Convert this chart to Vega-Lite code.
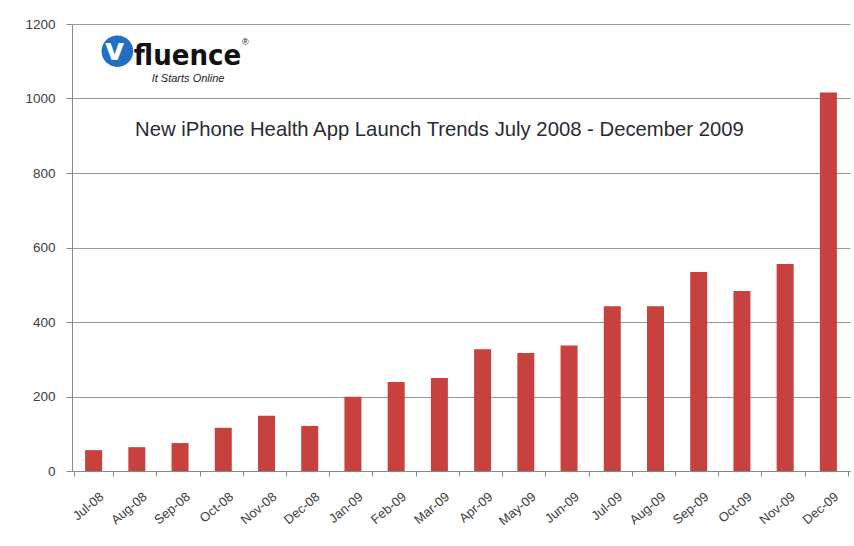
{
  "$schema": "https://vega.github.io/schema/vega-lite/v6.json",
  "width": 778,
  "height": 447,
  "autosize": {"type": "none"},
  "padding": {"left": 72, "top": 24, "right": 4, "bottom": 75},
  "background": "white",
  "config": {
    "view": {"stroke": null},
    "font": "Liberation Sans"
  },
  "data": {
    "values": [
      {"month": "Jul-08", "apps": 56},
      {"month": "Aug-08", "apps": 64},
      {"month": "Sep-08", "apps": 75},
      {"month": "Oct-08", "apps": 116},
      {"month": "Nov-08", "apps": 148},
      {"month": "Dec-08", "apps": 121},
      {"month": "Jan-09", "apps": 199},
      {"month": "Feb-09", "apps": 239},
      {"month": "Mar-09", "apps": 250},
      {"month": "Apr-09", "apps": 327},
      {"month": "May-09", "apps": 317},
      {"month": "Jun-09", "apps": 337},
      {"month": "Jul-09", "apps": 442},
      {"month": "Aug-09", "apps": 442},
      {"month": "Sep-09", "apps": 534},
      {"month": "Oct-09", "apps": 483},
      {"month": "Nov-09", "apps": 556},
      {"month": "Dec-09", "apps": 1016}
    ]
  },
  "layer": [
    {
      "mark": {"type": "bar", "color": "#C7423F", "width": 17},
      "encoding": {
        "x": {
          "field": "month",
          "type": "nominal",
          "sort": null,
          "title": null,
          "axis": {
            "labelAngle": -40,
            "labelFontSize": 13,
            "labelColor": "#404040",
            "labelPadding": 14,
            "labelOffset": 4,
            "tickBand": "extent",
            "tickSize": 5,
            "tickColor": "#888888",
            "domainColor": "#888888",
            "grid": false
          }
        },
        "y": {
          "field": "apps",
          "type": "quantitative",
          "title": null,
          "scale": {"domain": [0, 1200], "nice": false},
          "axis": {
            "values": [0, 200, 400, 600, 800, 1000, 1200],
            "format": "d",
            "labelFontSize": 13.5,
            "labelColor": "#404040",
            "labelPadding": 11,
            "tickSize": 6,
            "tickColor": "#888888",
            "domainColor": "#888888",
            "gridColor": "#999999",
            "gridWidth": 1
          }
        }
      }
    },
    {
      "data": {"values": [{}]},
      "mark": {"type": "text", "text": "New iPhone Health App Launch Trends July 2008 - December 2009", "fontSize": 20.3, "color": "#2a2a35", "align": "center", "baseline": "middle"},
      "encoding": {
        "x": {"datum": "Mar-09"},
        "y": {"datum": 915}
      }
    },
    {
      "data": {"values": [{}]},
      "mark": {"type": "point", "filled": true, "size": 1000, "color": "#1F6FC5", "opacity": 1},
      "encoding": {
        "x": {"datum": "Aug-08", "bandPosition": 0},
        "y": {"datum": 1127}
      }
    },
    {
      "data": {"values": [{}]},
      "mark": {"type": "text", "text": "v", "fontSize": 30, "fontWeight": "bold", "color": "white", "align": "center", "baseline": "middle", "dx": 21, "dy": -1, "font": "DejaVu Sans"},
      "encoding": {
        "x": {"datum": "Jul-08"},
        "y": {"datum": 1125}
      }
    },
    {
      "data": {"values": [{}]},
      "mark": {"type": "text", "text": "fluence", "fontSize": 29, "fontWeight": "bold", "color": "#111111", "align": "left", "baseline": "alphabetic", "dx": -3, "font": "DejaVu Sans Condensed, Liberation Sans Narrow, Liberation Sans"},
      "encoding": {
        "x": {"datum": "Aug-08"},
        "y": {"datum": 1089}
      }
    },
    {
      "data": {"values": [{}]},
      "mark": {"type": "text", "text": "®", "fontSize": 9, "color": "#111111", "align": "center", "baseline": "middle", "dx": 22},
      "encoding": {
        "x": {"datum": "Oct-08"},
        "y": {"datum": 1152}
      }
    },
    {
      "data": {"values": [{}]},
      "mark": {"type": "text", "text": "It Starts Online", "fontSize": 11, "fontStyle": "italic", "color": "#222222", "align": "center", "baseline": "middle", "dx": 8},
      "encoding": {
        "x": {"datum": "Sep-08"},
        "y": {"datum": 1052}
      }
    }
  ]
}
